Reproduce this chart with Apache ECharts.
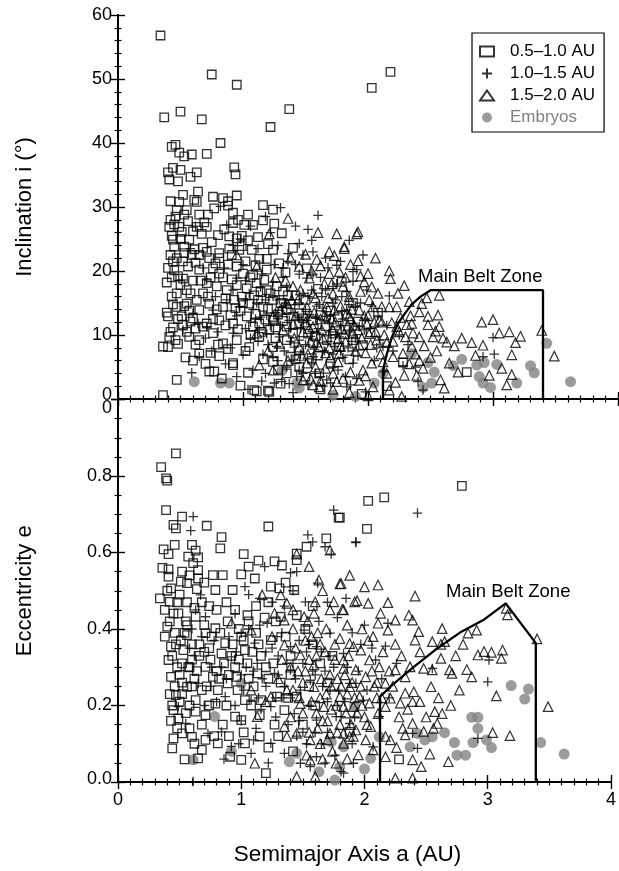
<!DOCTYPE html>
<html><head><meta charset="utf-8">
<script src="https://cdn.jsdelivr.net/npm/echarts@6/dist/echarts.min.js"></script>
<style>html,body{margin:0;padding:0;background:#fff}#c{width:619px;height:871px}</style>
</head><body><div id="c"></div>
<script>
// ---------- DATA ----------
const seriesNames = ['0.5–1.0 AU', '1.0–1.5 AU', '1.5–2.0 AU', 'Embryos'];
const xTicks = [0, 1, 2, 3, 4];
const incTicks = [0, 10, 20, 30, 40, 50, 60];
const eccTicks = [0, 0.2, 0.4, 0.6, 0.8, 1.0];

// Top panel: [a (AU), inclination (deg)]
const topSquares = [
[0.34,56.8],[0.75,50.7],[0.95,49.1],[0.37,44.0],[0.50,44.9],[0.67,43.7],[1.37,45.3],[1.22,42.5],[2.03,48.6],[2.18,51.1],
[0.82,40.0],[0.43,39.4],[0.46,39.7],[0.49,38.5],[0.53,37.9],[0.59,38.2],[0.71,38.3],[0.93,36.2],[0.94,35.1],[0.44,36.1],
[0.40,35.4],[0.50,35.8],[0.41,34.3],[0.48,34.0],[0.58,34.7],[0.63,35.4],[0.52,31.9],[0.64,32.4],[0.76,31.6],[0.84,31.4],
[0.95,31.8],[0.88,30.9],[0.42,30.9],[0.61,31.1],[1.16,30.3],[1.24,29.6],
[0.49,30.8],[0.63,30.8],[0.88,30.2],[0.47,29.5],[0.55,29.5],[0.46,28.5],[0.53,28.8],[0.65,28.8],[0.72,28.8],[0.41,26.9],
[0.49,26.9],[0.63,26.9],[0.71,26.9],[0.92,29.1],[1.04,28.8],[1.01,27.2],[1.08,27.2],[1.16,27.9],[1.25,27.4],[1.31,25.9],
[0.43,25.5],[0.44,24.9],[0.51,26.1],[0.57,24.9],[0.67,25.8],[0.80,25.6],[0.89,25.4],[0.95,25.1],[0.99,25.5],[1.04,24.8],
[0.45,23.8],[0.53,23.8],[0.61,23.4],[0.71,23.0],[0.81,22.8],[0.89,23.5],[0.97,23.3],[1.07,23.3],[1.13,21.9],[1.19,21.9],[1.24,23.3],
[0.42,22.5],[0.44,21.5],[0.52,21.5],[0.59,22.5],[0.65,22.5],[0.73,22.0],[0.81,22.0],[0.91,22.5],
[0.56,20.7],[0.65,20.2],[0.76,20.4],[0.81,19.6],[0.95,20.7],[1.00,19.6],[1.08,19.4],[1.19,20.2],[1.29,21.2],
[0.39,18.2],[0.47,16.5],[0.55,17.0],[0.63,15.5],[0.71,18.1],[0.79,17.6],[0.87,17.0],[0.95,17.8],[1.03,17.3],[1.11,18.1],[1.19,17.0],[1.27,17.6],
[0.47,14.4],[0.55,14.9],[0.65,13.9],[0.73,14.9],[0.84,14.4],[0.93,15.5],[1.05,14.9],[1.16,14.4],[1.24,15.5],[1.35,13.9],[1.45,13.4],
[0.40,12.9],[0.51,12.9],[0.60,12.6],[0.71,11.8],[0.81,12.3],[0.92,11.8],[1.03,12.9],[1.13,11.8],[1.24,12.3],[1.35,11.3],[1.45,11.8],[1.56,12.3],
[0.41,9.7],[0.40,8.1],[0.48,8.6],[0.57,9.7],[0.65,9.2],[0.76,10.3],[0.84,8.7],[0.95,9.2],[1.05,8.1],[1.13,9.7],[1.24,8.1],[1.35,9.2],[1.45,7.6],[1.56,8.7],[1.67,9.2],[1.77,8.1],[1.88,9.2],
[0.60,6.0],[0.65,7.1],[0.73,4.3],[0.77,4.3],[0.81,6.7],[0.92,5.6],[1.04,4.1],[1.11,1.2],[1.20,1.3],[1.24,5.8],[1.35,4.0],[1.45,5.0],[1.61,4.0],
[0.47,3.0],[0.36,0.6],[1.09,1.4],[1.21,1.1],[0.92,5.3],
[1.79,18.3],[1.88,15.0],[2.28,5.7],[2.79,4.2],
[0.45,20.1],[0.48,19.2],[0.52,18.8],[0.43,16.0],[0.58,12.1],[0.62,11.0],[0.68,16.5],[0.74,19.0],[0.86,15.7],[0.98,13.8],
[1.09,16.2],[1.15,10.5],[1.28,13.2],[1.32,16.8],[1.40,10.2],[1.50,15.5],[1.60,17.2],[1.70,13.8],[1.42,6.2],[1.55,6.4],
[0.55,10.5],[0.44,11.2],[0.36,8.2],[0.83,3.2],[0.98,2.1],[1.30,2.4],
[0.42,28.0],[0.45,27.3],[0.50,25.0],[0.53,22.8],[0.47,22.0],[0.40,20.5],[0.43,19.0],[0.50,17.8],[0.44,14.8],[0.39,13.5],
[0.42,10.5],[0.46,9.2],[0.52,11.6],[0.57,13.8],[0.60,18.5],[0.62,21.3],[0.68,23.6],[0.75,24.5],[0.78,21.2],[0.84,19.0],
[0.88,21.0],[0.91,18.7],[0.99,16.0],[1.02,21.5],[1.06,19.0],[1.10,13.3],[1.14,16.7],[1.18,12.4],[1.21,10.8],[1.26,9.5],
[1.32,12.2],[1.38,14.8],[1.42,16.2],[1.48,12.6],[1.52,10.2],[1.58,9.8],[1.62,13.1],[1.66,11.4],[1.72,10.2],[1.76,12.8],
[1.82,10.8],[1.92,12.1],[1.96,8.4],[2.02,10.4],[1.85,6.2],[1.70,5.5],[1.60,6.8],[1.50,3.5],[1.38,6.6],[1.28,4.6],
[1.16,6.2],[1.02,7.5],[0.88,7.8],[0.74,7.2],[0.68,11.3],[0.79,14.0],[0.90,13.1],[0.96,10.9],[1.08,11.3],[1.20,14.1],
[0.56,27.8],[0.60,26.2],[0.69,27.6],[0.85,26.5],[0.92,27.5],[1.12,25.3],[1.20,24.2],[0.77,29.8],[0.96,28.0],[0.99,23.9],
[1.10,20.9],[1.34,19.8],[1.40,23.6],[1.51,20.4],[2.08,13.5],[2.15,2.0],[1.95,0.8],[1.62,1.5],
[0.48,12.5],[0.53,14.5],[0.58,16.5],[0.66,18.5],[0.72,16.0],[0.76,12.5],[0.86,11.5],[0.94,14.2],[1.00,15.0],[1.06,10.0],
[1.12,15.5],[1.17,18.6],[1.22,16.5],[1.26,11.2],[1.30,15.0],[1.36,16.2],[0.62,8.5],[0.70,5.5],[0.80,8.5],[0.54,6.5]
];
const topPlus = [
[0.82,30.1],[1.30,29.9],[1.60,28.7],[0.87,27.2],[1.45,24.3],[1.55,24.8],[1.36,22.7],[1.75,20.9],[1.91,20.2],[0.51,18.6],
[0.71,18.6],[0.95,18.9],[1.24,18.3],[1.51,18.9],[1.72,17.6],[0.87,15.5],[1.11,15.0],[1.29,15.5],[1.45,15.0],[1.59,14.5],
[1.72,15.0],[1.83,13.9],[0.60,13.4],[0.76,13.9],[0.97,14.4],[1.19,13.1],[1.35,13.4],[1.51,12.3],[1.67,12.9],[1.88,11.8],
[0.52,10.8],[0.71,11.3],[0.92,10.3],[1.13,10.8],[1.29,9.7],[1.45,9.2],[1.59,10.3],[1.77,9.7],[0.65,6.6],[1.00,6.9],
[1.24,6.6],[1.40,6.1],[1.56,6.6],[1.72,5.0],[1.88,5.6],[0.59,4.1],[0.95,3.5],[1.31,2.7],[1.37,2.4],[1.48,4.0],
[1.67,3.0],[1.83,1.9],
[1.85,24.8],[1.88,19.9],[1.99,17.0],[2.17,16.1],[1.88,18.4],[1.93,11.3],[2.09,9.2],[2.25,10.0],[2.12,8.2],[2.28,5.2],
[2.40,2.7],[1.98,1.1],[3.00,9.6],[3.01,7.0],[2.92,6.6],[2.44,1.4],[1.91,3.2],[2.13,4.3],[1.79,16.0],
[1.05,16.5],[1.10,12.5],[1.15,19.5],[1.20,8.5],[1.25,21.0],[1.30,11.5],[1.35,17.5],[1.40,13.5],[1.45,19.5],[1.50,8.5],
[1.55,17.0],[1.60,11.0],[1.65,7.5],[1.70,13.0],[1.75,18.0],[1.80,6.5],[1.85,10.5],[1.90,14.5],[0.95,13.0],[0.90,8.0],
[1.00,21.0],[1.08,4.5],[1.18,15.5],[1.28,6.0],[1.38,9.0],[1.48,16.5],[1.58,4.0],[1.68,20.5],[1.78,11.5],[1.88,7.5],
[1.98,12.5],[2.05,6.0],[0.78,16.0],[0.70,9.5],[0.85,20.5],[1.12,23.5],[1.22,26.0],[1.42,27.0],[1.33,7.5],[1.53,13.2],
[1.63,16.0],[1.73,8.2],[1.43,3.5],[1.12,9.0],[1.02,11.0],[0.92,17.0],[1.26,13.5],[1.36,21.5],[1.46,11.0],[1.56,23.0],
[0.98,25.0],[1.06,27.0],[1.18,28.5],[1.28,24.0],[1.32,19.0],[1.42,21.0],[1.48,22.5],[1.52,26.5],[1.62,19.0],[1.66,22.0],
[1.70,10.5],[1.74,15.5],[1.80,12.5],[1.84,8.0],[1.90,9.5],[1.94,15.0],[2.02,11.0],[2.08,13.0],[2.15,11.5],[2.20,7.5],
[2.32,8.5],[2.38,5.0],[1.06,9.5],[1.16,7.0],[1.22,11.5],[1.28,13.0],[1.34,15.0],[1.38,11.0],[1.44,13.0],[1.50,14.0],
[1.54,9.8],[1.58,12.6],[1.64,14.2],[1.68,9.0],[1.72,7.0],[1.76,4.5],[1.82,3.5],[1.86,2.2],[1.64,2.0],[1.52,2.2],
[1.40,1.0],[1.18,4.0],[1.04,1.5],[0.86,5.5],[0.80,10.5],[0.75,7.5],[0.64,11.8],[0.68,20.5],[0.58,23.5],[0.62,27.0],
[0.92,24.0],[1.02,15.5],[1.14,17.5],[1.24,16.0],[1.06,12.0],[1.32,20.5],[1.46,7.0],[1.56,19.5],[1.78,21.5],[1.96,22.5],
[1.02,18.5],[1.08,14.0],[1.14,12.8],[1.19,10.2],[1.27,8.2],[1.31,14.3],[1.37,12.3],[1.41,8.1],[1.47,12.2],[1.52,16.0],
[1.57,7.8],[1.61,14.8],[1.66,17.0],[1.69,11.9],[1.74,10.0],[1.79,13.7],[1.83,16.8],[1.87,9.0],[1.92,6.7],[1.97,10.8],
[2.03,14.5],[2.07,8.0],[1.25,2.5],[1.35,5.0],[1.45,4.5],[1.55,5.5],[1.62,3.5],[1.70,2.5],[1.78,7.5],[1.15,2.8]
];
const topTri = [
[1.11,20.7],[0.95,22.5],[1.21,25.8],[1.36,28.2],[1.75,25.8],[1.81,23.5],[1.91,25.8],[1.69,23.0],[1.45,20.7],[1.59,21.8],
[1.53,18.9],[1.69,19.6],[1.77,19.9],[1.40,17.6],[1.56,16.5],[1.72,16.5],[1.85,16.0],[1.35,15.0],[1.51,14.4],[1.67,14.4],
[1.83,13.4],[1.24,12.9],[1.40,11.8],[1.56,11.3],[1.72,10.8],[1.88,10.3],[1.11,10.3],[1.29,8.7],[1.45,8.1],[1.61,8.1],
[1.77,7.1],[1.13,5.3],[1.24,4.5],[1.51,5.6],[1.72,4.0],[1.56,2.2],[1.61,1.9],[1.75,2.7],[1.80,3.2],
[1.92,26.1],[1.81,23.8],[1.92,21.6],[1.97,18.3],[2.17,20.0],[2.18,18.8],[2.29,17.7],[2.57,16.2],[1.80,17.6],[1.85,15.5],
[1.93,13.9],[2.01,15.5],[2.04,14.4],[2.11,14.4],[2.17,14.4],[2.23,14.4],[2.33,15.2],[2.43,14.9],[1.99,11.8],[2.09,12.3],
[2.23,11.3],[2.35,11.8],[2.41,13.6],[2.48,12.9],[2.56,13.1],[2.57,11.3],[2.48,11.6],[2.36,10.3],[2.41,9.7],[2.52,9.7],
[2.60,9.5],[2.63,8.9],[2.69,8.3],[2.83,8.8],[2.92,8.4],[2.91,12.0],[3.05,10.3],[3.13,10.5],[3.18,8.8],[3.15,6.9],
[3.07,4.8],[3.15,3.8],[2.97,3.7],[3.11,2.2],[3.39,10.7],[3.49,6.7],[2.61,1.7],[2.17,1.4],[2.27,0.4],[2.29,3.7],
[2.39,3.7],[2.33,5.5],[2.41,6.0],[2.28,7.1],[2.35,8.2],[2.20,6.6],[2.15,4.0],[2.03,5.6],[1.93,2.9],[2.04,1.9],
[2.72,4.2],[2.65,5.6],
[1.42,13.0],[1.48,10.5],[1.52,7.0],[1.58,15.8],[1.62,12.5],[1.65,18.0],[1.70,6.5],[1.74,12.0],[1.78,14.5],[1.82,9.0],
[1.86,12.5],[1.90,7.5],[1.95,9.5],[2.00,13.0],[2.06,10.5],[2.10,7.0],[1.46,17.0],[1.64,9.5],[1.96,4.5],[2.02,8.5],
[1.30,14.0],[1.26,19.0],[1.38,22.0],[1.60,26.0],[1.66,4.8],[1.54,3.2],
[1.44,15.5],[1.50,12.0],[1.54,9.0],[1.57,13.5],[1.63,10.8],[1.68,15.8],[1.71,12.5],[1.76,9.4],[1.79,11.0],[1.84,11.5],
[1.87,14.0],[1.92,10.8],[1.94,16.8],[1.98,7.2],[2.05,12.0],[2.08,16.5],[2.13,10.0],[2.20,9.0],[2.26,12.7],[2.30,9.7],
[2.38,7.0],[2.45,8.3],[2.50,6.5],[2.55,7.5],[2.44,4.8],[2.58,3.0],[2.22,2.6],[2.12,5.8],[1.98,3.6],[1.86,4.2],
[1.76,5.8],[1.66,7.2],[1.58,5.0],[1.48,3.0],[1.36,6.0],[1.32,10.8],[1.20,7.5],[1.34,18.5],[1.50,22.6],[1.62,20.8],
[1.73,22.4],[1.86,21.0],[2.00,19.6],[2.06,22.0],[2.24,16.5],[2.34,13.0],[2.54,10.6],[2.47,15.8],[2.75,9.5],[2.86,6.8],
[3.00,12.4],[3.22,9.8],
[1.41,9.5],[1.47,6.8],[1.53,11.0],[1.59,8.9],[1.65,13.0],[1.69,8.0],[1.73,13.9],[1.78,8.2],[1.81,10.2],[1.85,13.0],
[1.89,11.5],[1.93,8.4],[1.97,13.0],[2.01,10.2],[2.07,9.2],[2.11,12.0],[2.15,8.8],[2.19,11.9],[2.25,10.5],[2.31,11.6],
[1.39,15.5],[1.55,20.0],[1.71,18.0],[1.82,19.0],[1.94,19.2],[2.03,17.5],[1.62,2.8],[1.72,1.5],[1.85,1.0],[2.00,0.5]
];
const topEmb = [
[0.61,2.7],[0.82,2.5],[0.89,2.5],[1.31,4.4],[1.43,2.5],[1.45,1.7],[1.72,0.6],[1.90,0.4],[2.05,2.5],[2.12,4.0],
[2.35,7.1],[2.44,1.8],[2.48,5.7],[2.51,2.5],[2.53,4.2],[2.68,5.2],[2.75,6.2],[2.87,5.3],[2.89,3.5],[2.92,2.5],
[2.93,5.7],[2.98,1.8],[3.03,5.4],[3.19,2.5],[3.30,5.2],[3.33,4.1],[3.43,8.7],[3.62,2.7]
];

// Bottom panel: [a (AU), eccentricity]
const botSquares = [
[0.47,0.859],[0.35,0.823],[0.39,0.794],[0.40,0.788],[0.39,0.711],[0.52,0.694],[0.45,0.672],[0.47,0.663],[0.72,0.670],[1.22,0.668],
[0.84,0.640],[0.83,0.611],[0.37,0.608],[0.41,0.596],[0.63,0.605],[0.57,0.589],[0.65,0.587],[0.61,0.572],[1.02,0.596],[1.14,0.579],
[1.27,0.577],[1.33,0.566],[1.06,0.563],[0.41,0.556],[0.41,0.537],[0.52,0.550],[0.51,0.524],[0.43,0.506],[0.65,0.554],[0.65,0.532],
[0.64,0.504],[0.70,0.521],[0.77,0.541],[0.85,0.541],[1.00,0.543],[1.11,0.532],[1.36,0.521],[1.45,0.597],[1.45,0.580],[1.53,0.615],
[1.69,0.637],[1.80,0.691],[1.43,0.502],[0.34,0.480],[0.42,0.471],[0.79,0.502],[0.93,0.502],[1.24,0.511],[1.31,0.506],
[2.79,0.774],[2.03,0.735],[2.16,0.744],[1.79,0.691],[2.02,0.662],
[0.40,0.406],[0.43,0.354],[0.41,0.319],[0.43,0.275],[0.47,0.227],[0.45,0.188],[0.49,0.166],[0.45,0.114],[0.44,0.088],[0.54,0.059],
[0.65,0.062],[0.49,0.441],[0.56,0.410],[0.56,0.384],[0.53,0.345],[0.57,0.301],[0.56,0.249],[0.63,0.214],[0.63,0.184],[0.71,0.175],
[0.71,0.110],[0.68,0.084],[0.63,0.432],[0.71,0.389],[0.79,0.402],[0.87,0.363],[0.71,0.301],[0.68,0.240],[0.77,0.275],[0.79,0.205],
[0.81,0.101],[0.91,0.066],[1.00,0.058],[1.03,0.101],[0.95,0.171],[1.00,0.162],[1.03,0.214],[0.97,0.240],[0.96,0.275],[1.05,0.310],
[1.00,0.380],[1.05,0.436],[1.24,0.371],[1.13,0.284],[1.16,0.214],[1.15,0.175],[1.15,0.119],[1.20,0.023],[1.29,0.223],[1.35,0.188],
[1.45,0.223],[1.32,0.432],[1.45,0.436],[1.03,0.345],[0.84,0.336],[0.89,0.258],[0.81,0.240],[0.52,0.127],[0.60,0.118],
[2.28,0.059],[1.88,0.131],
[0.50,0.490],[0.56,0.470],[0.62,0.455],[0.74,0.460],[0.88,0.470],[0.95,0.450],[1.12,0.460],[0.45,0.440],[0.38,0.380],[0.60,0.360],
[0.66,0.330],[0.74,0.350],[0.92,0.330],[1.10,0.250],[1.20,0.300],[1.40,0.280],[1.55,0.250],[1.60,0.200],[1.50,0.150],[1.30,0.120],
[0.85,0.150],[0.78,0.120],[0.58,0.200],[0.50,0.280],[0.42,0.230],
[0.42,0.420],[0.46,0.390],[0.51,0.370],[0.44,0.330],[0.48,0.300],[0.52,0.260],[0.46,0.250],[0.50,0.210],[0.55,0.180],[0.43,0.160],
[0.48,0.140],[0.58,0.140],[0.62,0.270],[0.66,0.360],[0.60,0.320],[0.70,0.410],[0.75,0.320],[0.72,0.250],[0.80,0.290],[0.83,0.390],
[0.86,0.310],[0.89,0.420],[0.93,0.360],[0.95,0.300],[0.98,0.400],[1.02,0.370],[1.06,0.420],[1.09,0.340],[1.12,0.390],[1.16,0.330],
[1.19,0.430],[1.22,0.270],[1.26,0.310],[1.08,0.200],[1.02,0.130],[0.90,0.120],[0.88,0.200],[0.74,0.200],[0.68,0.150],[0.62,0.100],
[1.28,0.420],[1.36,0.380],[1.40,0.330],[1.32,0.260],[1.38,0.220],[1.27,0.150],[1.22,0.090],[1.42,0.080],[1.52,0.400],[1.58,0.360],
[1.64,0.310],[1.70,0.260],[1.74,0.330],[1.58,0.460],[1.22,0.470],[0.80,0.450],[0.56,0.520],[0.60,0.620],[0.46,0.620],[0.38,0.450],
[0.36,0.560],[0.55,0.420],[0.68,0.470],[0.58,0.300],[0.52,0.310],[0.47,0.360],
[0.44,0.200],[0.52,0.230],[0.60,0.250],[0.64,0.290],[0.70,0.340],[0.76,0.380],[0.82,0.270],[0.90,0.280],[0.98,0.320],[1.06,0.270],
[1.14,0.360],[0.54,0.390],[0.48,0.470],[0.40,0.500],[0.58,0.540]
];
const botPlus = [
[2.43,0.703],[1.93,0.626],[0.61,0.694],[0.59,0.657],[1.54,0.646],[1.58,0.628],[1.75,0.711],[1.93,0.628],[1.73,0.596],[1.68,0.615],
[1.40,0.547],[1.45,0.550],[1.19,0.563],[1.03,0.511],[0.67,0.489],[1.52,0.471],
[0.63,0.450],[0.71,0.432],[1.00,0.389],[1.11,0.363],[1.21,0.415],[1.29,0.380],[1.40,0.354],[1.51,0.397],[1.61,0.354],[1.72,0.389],
[1.83,0.336],[0.84,0.301],[0.92,0.327],[1.13,0.310],[1.27,0.284],[1.40,0.293],[1.56,0.266],[1.72,0.240],[1.88,0.258],[0.65,0.258],
[0.87,0.223],[1.08,0.214],[1.24,0.197],[1.43,0.179],[1.61,0.162],[1.77,0.171],[0.73,0.127],[0.84,0.131],[0.92,0.093],[1.08,0.075],
[1.24,0.101],[1.35,0.075],[1.48,0.049],[1.56,0.040],[1.61,0.066],[1.83,0.023],[0.61,0.001],[0.55,0.153],[0.49,0.197],
[2.00,0.410],[2.19,0.415],[2.17,0.355],[2.26,0.310],[2.55,0.297],[3.01,0.319],[3.00,0.262],[2.92,0.114],[2.39,0.127],[2.43,0.088],
[1.91,0.049],[1.81,0.027],[2.09,0.319],[1.93,0.258],[1.99,0.214],[1.81,0.171],[2.12,0.171],[1.88,0.153],[2.07,0.092],
[0.95,0.440],[1.15,0.480],[1.35,0.460],[1.62,0.520],[1.85,0.480],[1.30,0.330],[1.50,0.310],[1.68,0.290],[1.20,0.250],[1.00,0.280],
[0.78,0.370],[0.60,0.400],[1.12,0.140],[1.45,0.120],[1.65,0.100],[1.97,0.360],[1.40,0.220],[1.55,0.200],[0.95,0.200],[1.78,0.430],
[0.58,0.350],[0.68,0.380],[0.76,0.300],[0.80,0.210],[0.90,0.380],[0.96,0.340],[1.04,0.300],[1.06,0.400],[1.15,0.410],[1.17,0.270],
[1.25,0.350],[1.33,0.390],[1.37,0.310],[1.44,0.270],[1.47,0.370],[1.53,0.340],[1.58,0.290],[1.63,0.420],[1.66,0.250],[1.70,0.210],
[1.75,0.300],[1.79,0.240],[1.86,0.300],[1.90,0.390],[1.95,0.290],[2.02,0.240],[2.06,0.350],[2.14,0.270],[2.20,0.220],[1.16,0.190],
[1.28,0.170],[1.33,0.220],[1.47,0.160],[1.53,0.100],[1.70,0.130],[1.76,0.070],[1.90,0.100],[1.00,0.160],[0.86,0.060],[0.70,0.200],
[0.62,0.330],[1.06,0.490],[1.25,0.470],[1.42,0.500],[1.70,0.470],
[1.02,0.240],[1.10,0.290],[1.14,0.220],[1.20,0.340],[1.30,0.280],[1.35,0.250],[1.42,0.310],[1.48,0.240],[1.55,0.360],[1.60,0.280],
[1.65,0.340],[1.72,0.330],[1.78,0.200],[1.84,0.210],[1.92,0.170],[1.28,0.220],[1.38,0.150],[1.50,0.130],[1.60,0.130],[1.68,0.050],
[1.22,0.050],[1.10,0.110],[0.98,0.100],[0.88,0.270],[0.75,0.250]
];
const botTri = [
[1.45,0.596],[1.55,0.563],[1.63,0.528],[1.81,0.519],[1.72,0.606],[1.60,0.471],[1.75,0.471],[1.92,0.471],[1.17,0.489],[1.37,0.467],
[1.32,0.489],
[0.92,0.415],[1.08,0.397],[1.35,0.423],[1.27,0.441],[1.51,0.432],[1.59,0.441],[1.72,0.450],[1.83,0.450],[1.35,0.358],[1.48,0.332],
[1.59,0.306],[1.72,0.280],[1.83,0.297],[1.91,0.354],[1.08,0.240],[1.24,0.223],[1.37,0.240],[1.48,0.205],[1.59,0.249],[1.67,0.197],
[1.80,0.223],[1.91,0.197],[1.13,0.171],[1.35,0.145],[1.45,0.127],[1.56,0.110],[1.72,0.127],[1.83,0.101],[1.91,0.119],[1.11,0.049],
[1.37,0.119],[1.45,0.014],[1.60,0.014],[1.56,0.057],[1.77,0.049],
[1.80,0.518],[2.11,0.515],[2.41,0.486],[1.94,0.474],[2.03,0.467],[2.19,0.469],[1.82,0.451],[2.13,0.441],[2.25,0.423],[2.36,0.436],
[2.39,0.423],[2.44,0.393],[2.11,0.415],[2.19,0.397],[2.41,0.371],[2.63,0.401],[2.65,0.367],[2.84,0.389],[2.91,0.397],[2.55,0.367],
[2.92,0.332],[2.97,0.341],[3.03,0.339],[3.12,0.345],[3.11,0.323],[3.15,0.454],[3.16,0.437],[3.40,0.374],[2.83,0.294],[2.87,0.275],
[2.62,0.323],[2.69,0.293],[2.71,0.284],[2.48,0.297],[2.55,0.293],[2.54,0.249],[2.40,0.236],[2.39,0.210],[2.33,0.232],[2.21,0.219],
[2.29,0.206],[2.17,0.197],[3.07,0.225],[3.49,0.197],[2.57,0.184],[2.63,0.179],[2.59,0.153],[2.56,0.140],[2.48,0.132],[2.39,0.153],
[2.33,0.123],[2.31,0.140],[2.21,0.110],[2.17,0.119],[3.04,0.129],[3.18,0.121],[2.39,0.058],[2.53,0.073],[2.68,0.053],[2.25,0.010],
[2.39,0.010],[2.11,0.179],[2.05,0.145],[1.93,0.136],[1.88,0.119],[1.83,0.127],[2.01,0.110],[1.95,0.071],[2.07,0.084],[2.17,0.066],
[1.80,0.375],[1.88,0.362],[1.97,0.345],[2.04,0.319],[2.12,0.301],[1.83,0.319],[1.93,0.293],[2.01,0.275],[1.88,0.249],[1.96,0.223],
[2.04,0.206],[1.83,0.197],[2.17,0.258],[2.25,0.293],[2.33,0.275],[2.37,0.301],
[1.42,0.400],[1.52,0.370],[1.62,0.390],[1.68,0.340],[1.76,0.360],[1.86,0.410],[1.46,0.290],[1.55,0.320],[1.64,0.220],[1.70,0.160],
[1.78,0.270],[1.86,0.230],[1.50,0.180],[1.62,0.140],[1.74,0.080],[1.66,0.060],[1.98,0.400],[2.07,0.380],[2.25,0.360],[2.30,0.330],
[1.44,0.350],[1.50,0.260],[1.54,0.420],[1.57,0.380],[1.61,0.330],[1.65,0.270],[1.69,0.400],[1.73,0.190],[1.76,0.320],[1.80,0.150],
[1.84,0.280],[1.87,0.330],[1.90,0.260],[1.94,0.180],[1.97,0.250],[2.00,0.170],[2.03,0.370],[2.08,0.250],[2.10,0.220],[2.15,0.340],
[2.20,0.290],[2.23,0.250],[2.28,0.170],[2.35,0.190],[2.45,0.210],[2.50,0.170],[2.60,0.220],[2.70,0.200],[2.77,0.240],[2.45,0.340],
[2.62,0.360],[2.74,0.330],[2.80,0.360],[1.40,0.170],[1.53,0.070],[1.66,0.160],[1.86,0.060],[2.26,0.090],[2.46,0.040],[1.30,0.270],
[1.25,0.380],[1.42,0.450],[1.66,0.500],[1.88,0.540],[2.00,0.510],
[1.42,0.240],[1.47,0.220],[1.52,0.290],[1.57,0.210],[1.61,0.180],[1.64,0.360],[1.69,0.230],[1.73,0.250],[1.77,0.200],[1.81,0.250],
[1.85,0.180],[1.89,0.150],[1.92,0.220],[1.98,0.200],[2.02,0.150],[2.06,0.290],[2.10,0.260],[2.14,0.220],[1.55,0.130],[1.64,0.100],
[1.70,0.110],[1.78,0.130],[1.40,0.300],[1.33,0.320],[1.20,0.210]
];
const botEmb = [
[0.61,0.058],[0.785,0.171],[0.92,0.080],[1.00,0.258],[1.39,0.053],[1.45,0.075],[1.63,0.027],[1.73,0.105],[1.76,0.005],[1.80,0.040],
[1.83,0.092],[1.92,0.197],[2.00,0.034],[2.05,0.062],[2.12,0.118],[2.37,0.092],[2.43,0.127],[2.49,0.110],[2.55,0.118],[2.65,0.129],
[2.73,0.103],[2.75,0.070],[2.82,0.070],[2.87,0.169],[2.92,0.169],[2.92,0.140],[2.88,0.103],[2.99,0.110],[3.03,0.090],[3.19,0.252],
[3.30,0.217],[3.33,0.243],[3.43,0.103],[3.62,0.073]
];

// Main Belt Zone outlines
const topBeltA = [2.12, 2.12, 2.15, 2.19, 2.24, 2.30, 2.35, 2.42, 2.50, 3.40, 3.40];
const topBeltI = [0, 4.5, 7.0, 9.6, 11.8, 13.5, 14.8, 16.0, 17.0, 17.0, 0];
const botBeltA = [2.126, 2.126, 2.226, 2.40, 2.572, 2.786, 2.972, 3.146, 3.39, 3.39];
const botBeltE = [0, 0.223, 0.254, 0.301, 0.345, 0.393, 0.425, 0.467, 0.363, 0];

// ---------- CHART ----------
const FONT = 'Liberation Sans, Arial, Helvetica, sans-serif';
const zip = (xs, ys) => xs.map((x, k) => [x, ys[k]]);
const chart = echarts.init(document.getElementById('c'), null, {renderer: 'canvas'});

const tickBase = (minorSplit) => ({
  axisLine: {show: true, lineStyle: {color: '#000', width: 1.8}},
  axisTick: {show: true, inside: true, length: 7, lineStyle: {color: '#000', width: 1.4}},
  minorTick: {show: true, splitNumber: minorSplit, length: 3.5, lineStyle: {color: '#000', width: 1.2}},
  splitLine: {show: false}, minorSplitLine: {show: false}
});
function xAx(grid, pos, labels) {
  return Object.assign({type: 'value', gridIndex: grid, position: pos, min: xTicks[0], max: xTicks[xTicks.length-1], interval: 1,
    axisLabel: {show: labels, fontSize: 18, fontFamily: FONT, color: '#000', margin: 9},
    name: labels ? 'Semimajor Axis a (AU)' : '', nameLocation: 'middle', nameGap: 61,
    nameTextStyle: {fontSize: 22.5, fontFamily: FONT, color: '#000', padding: [0, 34, 0, 0]}}, tickBase(10));
}
const sym = {
  sq: {symbol: 'rect', symbolSize: 8.5, itemStyle: {color: 'transparent', borderColor: '#000', borderWidth: 1.3}},
  plus: {symbol: 'path://M5,0L5,10M0,5L10,5', symbolSize: 9.5, itemStyle: {color: 'transparent', borderColor: '#000', borderWidth: 1.3}},
  tri: {symbol: 'triangle', symbolSize: 9.5, itemStyle: {color: 'transparent', borderColor: '#000', borderWidth: 1.2}},
  emb: {symbol: 'circle', symbolSize: 11, itemStyle: {color: '#828282', borderWidth: 0}}
};
function sc(name, data, s, x, y) {
  return Object.assign({type: 'scatter', name, data, xAxisIndex: x, yAxisIndex: y, silent: true, animation: false, z: 3}, JSON.parse(JSON.stringify(s)));
}
function belt(data, x, y) {
  return {type: 'line', name: 'belt', data, xAxisIndex: x, yAxisIndex: y, showSymbol: false, symbol: 'none', smooth: false,
    lineStyle: {color: '#000', width: 2.3}, z: 5, animation: false, silent: true, clip: false};
}

const option = {
  animation: false,
  backgroundColor: '#fff',
  grid: [
    {left: 118, top: 15, width: 500, height: 384},
    {left: 118, top: 399.5, width: 500, height: 382.5}
  ],
  xAxis: [xAx(0, 'bottom', false), xAx(0, 'top', false), xAx(1, 'bottom', true), xAx(1, 'top', false)],
  yAxis: [
    Object.assign({type: 'value', gridIndex: 0, position: 'left', min: incTicks[0], max: incTicks[incTicks.length-1], interval: 10,
      axisLabel: {fontSize: 18, fontFamily: FONT, color: '#000', margin: 6,
        formatter: v => v === 0 ? '{lo|0}' : String(v),
        rich: {lo: {fontSize: 18, fontFamily: FONT, color: '#000', padding: [0, 0, 8, 0]}}},
      name: 'Inclination i (°)', nameLocation: 'middle', nameGap: 82,
      nameTextStyle: {fontSize: 22, fontFamily: FONT, color: '#000'}}, tickBase(5)),
    Object.assign({type: 'value', gridIndex: 0, position: 'right', min: 0, max: 60, interval: 10, axisLabel: {show: false}}, tickBase(5)),
    Object.assign({type: 'value', gridIndex: 1, position: 'left', min: eccTicks[0], max: eccTicks[eccTicks.length-1], interval: 0.2,
      axisLabel: {fontSize: 18, fontFamily: FONT, color: '#000', margin: 6,
        formatter: v => v >= 0.999 ? '{hi|0}' : (v === 0 ? '{lo|0.0}' : v.toFixed(1)),
        rich: {hi: {fontSize: 18, fontFamily: FONT, color: '#000', padding: [17, 0, 0, 0]},
               lo: {fontSize: 18, fontFamily: FONT, color: '#000', padding: [0, 0, 5, 0]}}},
      name: 'Eccentricity e', nameLocation: 'middle', nameGap: 82,
      nameTextStyle: {fontSize: 22, fontFamily: FONT, color: '#000'}}, tickBase(4)),
    Object.assign({type: 'value', gridIndex: 1, position: 'right', min: 0, max: 1, interval: 0.2, axisLabel: {show: false}}, tickBase(4))
  ],
  legend: {
    show: true, orient: 'vertical', left: 472, top: 33,
    data: [
      {name: seriesNames[0]}, {name: seriesNames[1]}, {name: seriesNames[2]},
      {name: seriesNames[3], textStyle: {color: '#808080'}}
    ],
    itemWidth: 14, itemHeight: 10, itemGap: 5,
    padding: [10, 9, 6, 7],
    borderColor: '#000', borderWidth: 1.2, backgroundColor: '#fff',
    textStyle: {fontSize: 17, fontFamily: FONT, color: '#000', padding: [0, 0, 0, 11], lineHeight: 17},
    selectedMode: false, z: 10
  },
  graphic: [
    {type: 'text', left: 418, top: 267, style: {text: 'Main Belt Zone', font: '18.5px ' + FONT, fill: '#000'}, z: 10},
    {type: 'text', left: 446, top: 582, style: {text: 'Main Belt Zone', font: '18.5px ' + FONT, fill: '#000'}, z: 10}
  ],
  series: [
    sc(seriesNames[3], topEmb, sym.emb, 0, 0),
    sc(seriesNames[0], topSquares, sym.sq, 0, 0),
    sc(seriesNames[1], topPlus, sym.plus, 0, 0),
    sc(seriesNames[2], topTri, sym.tri, 0, 0),
    belt(zip(topBeltA, topBeltI), 0, 0),
    sc(seriesNames[3], botEmb, sym.emb, 2, 2),
    sc(seriesNames[0], botSquares, sym.sq, 2, 2),
    sc(seriesNames[1], botPlus, sym.plus, 2, 2),
    sc(seriesNames[2], botTri, sym.tri, 2, 2),
    belt(zip(botBeltA, botBeltE), 2, 2)
  ]
};
chart.setOption(option);
</script></body></html>
